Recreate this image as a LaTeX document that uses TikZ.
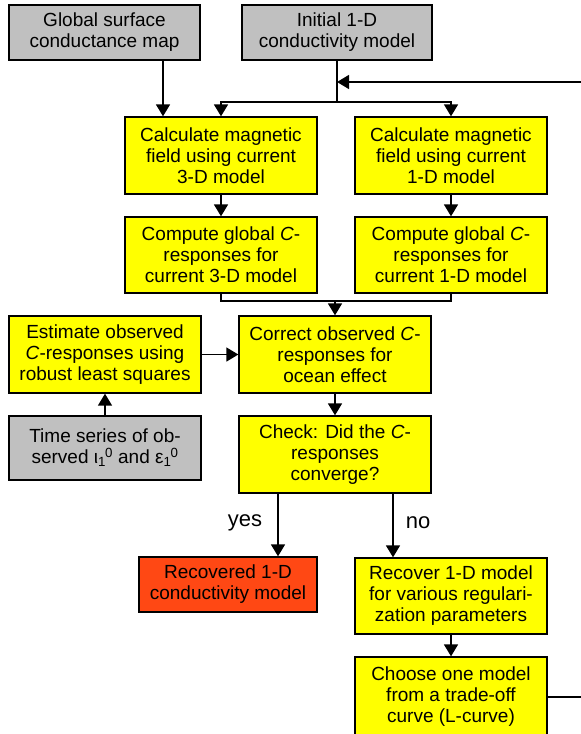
\documentclass[tikz,border=0pt]{standalone}
\usepackage{fontspec}
\setmainfont{Liberation Sans}
\usetikzlibrary{arrows.meta,positioning,calc}
\definecolor{boxyellow}{RGB}{255,255,0}
\definecolor{boxgray}{RGB}{192,192,192}
\definecolor{boxred}{RGB}{255,72,20}

\begin{document}
\begin{tikzpicture}
[x=1pt,y=-1pt,
B/.style={draw=black,line width=1.3pt,align=center,inner sep=0pt,
  minimum width=192pt,minimum height=77pt,font=\fontsize{19}{21}\selectfont},
Y/.style={B,fill=boxyellow},
G/.style={B,fill=boxgray},
R/.style={B,fill=boxred},
arr/.style={line width=1.5pt,-{Triangle[width=14pt,length=12pt]}},
ln/.style={line width=1.5pt},
lab/.style={font=\fontsize{22}{24}\selectfont}]
%%
\useasboundingbox (0,0) rectangle (581,734);
%%
%%%%%%%%%%%%%%%%%%
% inputs
%%%%%%%%%%%%%%%%%%
\node[G,minimum width=191pt,minimum height=55pt] (gsm) at (104.5,32.5) {Global surface\\conductance map};
\node[G,minimum width=190pt,minimum height=55pt] (init) at (337,32.5) {Initial 1-D\\conductivity model};
%%
%%%%%%%%%%%%%%%%%%
% forward part
%%%%%%%%%%%%%%%%%%
\node[Y] (calc3) at (221,155.5) {Calculate magnetic\\field using current\\3-D model};
\node[Y] (calc1) at (451,155.5) {Calculate magnetic\\field using current\\1-D model};
\node[Y,minimum height=76pt] (comp3) at (221,255) {Compute global \textit{C}-\\responses for\\current 3-D model};
\node[Y,minimum height=76pt] (comp1) at (451,255) {Compute global \textit{C}-\\responses for\\current 1-D model};
%%
%%%%%%%%%%%%%%%%%%
% observations
%%%%%%%%%%%%%%%%%%
\node[Y] (est) at (105,354.5) {Estimate observed\\\textit{C}-responses using\\robust least squares};
\node[G,minimum height=64pt] (ts) at (105,448) {Time series of ob-\\served ι\textsubscript{1}\kern-1pt\textsuperscript{0} and ε\textsubscript{1}\kern-1pt\textsuperscript{0}};
\node[Y] (corr) at (335,354.5) {Correct observed \textit{C}-\\responses for\\ocean effect};
\node[Y] (chk) at (335,454.5) {Check: Did the \textit{C}-\\responses\\converge?};
%%
%%%%%%%%%%%%%%%%%%
% results
%%%%%%%%%%%%%%%%%%
\node[R,minimum width=178pt,minimum height=55pt] (rec) at (228,584.5) {Recovered 1-D\\conductivity model};
\node[Y,minimum height=76pt] (rec1) at (451,596) {Recover 1-D model\\for various regulari-\\zation parameters};
\node[Y,minimum height=80pt] (choose) at (451,697) {Choose one model\\from a trade-off\\curve (L-curve)};
%%
%%%%%%%%%%%%%%%%%%
% connectors
%%%%%%%%%%%%%%%%%%
\coordinate (split) at (init.south |- 0,102);
\coordinate (back) at (init.south |- 0,82);
\coordinate (merge) at (corr.north |- 0,301);
%%
\draw[arr] ([xshift=58.5pt]gsm.south) -- ([xshift=58.5pt]gsm.south |- calc3.north);
\draw[ln] (init.south) -- (split);
\draw[arr] (split) -| (calc3.north);
\draw[arr] (split) -| (calc1.north);
\draw[arr] (choose.east) -- ++(40,0) |- (back);
%%
\draw[arr] (calc3) -- (comp3);
\draw[arr] (calc1) -- (comp1);
\draw[ln] (comp3.south) |- (comp1.south |- merge) -- (comp1.south);
\draw[arr] (merge) -- (corr.north);
%%
\draw[arr] (ts) -- (est);
\draw[arr] (est) -- (corr);
\draw[arr] (corr) -- (chk);
%%
\draw[arr] ([xshift=-57pt]chk.south) -- ([xshift=-57pt]chk.south |- rec.north);
\draw[arr] ([xshift=58pt]chk.south) -- ([xshift=58pt]chk.south |- rec1.north);
\node[lab] (yes) at (245,523) {yes};
\node[lab] (no) at (418,523) {no};
\draw[arr] (rec1) -- (choose);
%%
\end{tikzpicture}
\end{document}
